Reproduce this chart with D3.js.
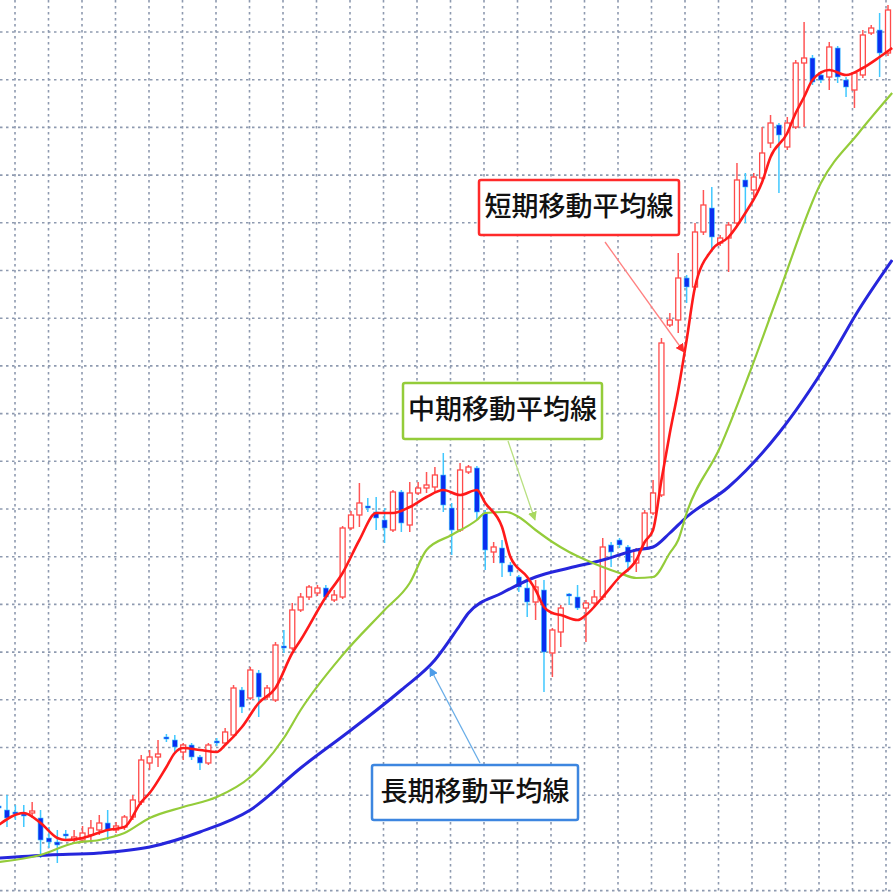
<!DOCTYPE html>
<html>
<head>
<meta charset="utf-8">
<script src="https://cdn.jsdelivr.net/npm/d3@7"></script>
<style>
  body { margin: 0; background: #fff; }
  svg { display: block; }
</style>
</head>
<body>
<div id="chart"></div>
<script>
// candles: [open, high, low, close]
const candles = [
  [194,200,188,192],[190,205,173,182],[188,195,180,186],[186,195,173,184],[187,198,182,189],
  [182,190,142,160],[162,173,152,158],[158,170,137,155],[166,170,160,164],[160,170,157,163],
  [160,174,157,167],[165,180,160,172],[170,185,165,177],[177,190,160,170],[170,178,167,174],
  [173,185,170,183],[183,205,180,200],[198,245,195,240],[237,250,230,243],[243,260,233,246],
  [263,266,258,261],[260,265,248,253],[248,257,240,255],[255,257,240,243],[243,245,230,237],
  [237,257,235,255],[259,262,254,257],[257,272,255,268],[265,315,263,312],[310,313,287,293],
  [302,333,300,330],[327,330,283,303],[303,315,300,312],[300,358,298,355],[354,370,347,352],
  [352,397,350,390],[390,407,388,403],[403,415,400,413],[407,415,404,412],[412,415,400,403],
  [400,410,398,405],[403,474,401,472],[472,489,470,485],[485,517,473,497],[494,502,488,492],
  [488,503,470,482],[480,492,457,472],[470,510,468,508],[508,510,468,477],[475,518,468,507],
  [507,518,505,512],[512,528,507,515],[513,533,508,525],[525,547,488,495],[492,497,445,470],
  [470,537,468,530],[528,535,526,533],[532,534,480,488],[487,490,430,450],[448,458,437,453],
  [452,460,423,437],[435,438,424,428],[423,425,408,413],[412,420,383,398],[398,420,380,413],
  [410,420,308,348],[347,372,323,370],[368,395,353,392],[406,407,395,404],[403,415,390,392],
  [392,400,358,397],[397,410,393,403],[403,462,400,453],[455,458,433,448],[460,462,452,455],
  [453,455,428,438],[437,452,428,450],[452,490,450,487],[487,520,485,507],[505,662,503,657],
  [675,687,673,680],[680,747,667,722],[722,725,697,713],[713,777,710,768],[768,810,765,795],
  [792,813,748,763],[757,765,754,762],[762,778,728,775],[777,837,773,820],[820,827,777,813],
  [810,827,803,823],[822,873,820,847],[857,885,852,877],[875,877,807,865],[853,883,850,877],
  [873,940,871,937],[937,978,873,942],[942,945,915,918],[925,928,917,920],[923,958,910,953],
  [952,954,917,923],[920,923,903,913],[910,928,892,927],[925,970,922,965],[967,975,965,972],
  [970,987,923,947],[947,995,944,990]
];

// moving averages: [candle index, value]
const maShort = [
  [0,175],[3,187],[5,177],[7,162],[8,160],[10,162],[13,170],[15,173],[17,198],[18,207],
  [20,233],[21,247],[22,252],[24,250],[26,248],[27,255],[29,273],[31,297],[33,312],[35,347],
  [36,360],[39,403],[41,427],[43,460],[45,487],[47,487],[49,493],[51,503],[53,510],[55,505],
  [57,510],[58,497],[60,473],[61,443],[63,423],[64,410],[65,393],[66,387],[67,385],[69,380],
  [70,385],[72,403],[74,423],[76,440],[77,458],[78,470],[79,520],[80,567],[81,610],[82,660],
  [83,713],[85,750],[87,763],[89,787],[91,818],[92,843],[94,867],[95,887],[96,903],[97,920],
  [99,930],[101,925],[103,932],[105,943],[106.5,952]
];
const maMid = [
  [0,138],[5,145],[9,157],[12,160],[15,167],[18,182],[22,193],[26,203],[30,223],[34,262],
  [36,290],[41,345],[46,390],[49,417],[51,450],[54,465],[57,480],[58,487],[60.5,488],[62,483],
  [64,470],[66,458],[68,448],[70,440],[72,433],[74,427],[76,422],[78,423],[80,447],[81,460],
  [82,487],[86,553],[89.5,627],[93,707],[98,817],[102.5,867],[106.5,907]
];
const maLong = [
  [0,142],[6,145],[12,147],[18,153],[24,168],[30,190],[36,232],[42,270],[48,310],[52,340],
  [55,375],[56,387],[60,407],[64,423],[68,432],[72,440],[76,450],[78,453],[80,467],[82,483],
  [87,513],[93,567],[99,640],[102.5,690],[106.5,740]
];

const labels = ["短期移動平均線", "中期移動平均線", "長期移動平均線"];

const width = 893;
const height = 893;

const svg = d3.select("#chart").append("svg")
  .attr("width", width).attr("height", height);

const x = d3.scaleLinear().domain([0, candles.length - 1]).range([-1.4, 888]);
const y = d3.scaleLinear().domain([107, 1000]).range([height, 0]);

// grid
const gridX = d3.range(15, width, 33.5);
const gridY = d3.range(32, height, 47.7);
svg.append("g").selectAll("line").data(gridX).join("line")
  .attr("x1", d => d).attr("x2", d => d).attr("y1", 0).attr("y2", height)
  .attr("stroke", "#8e9ab0").attr("stroke-width", 1.6).attr("stroke-dasharray", "2.5,3.5");
svg.append("g").selectAll("line").data(gridY).join("line")
  .attr("y1", d => d).attr("y2", d => d).attr("x1", 0).attr("x2", width)
  .attr("stroke", "#8e9ab0").attr("stroke-width", 1.6).attr("stroke-dasharray", "2.5,3.5");

// candles
const g = svg.append("g");
const candle = g.selectAll("g").data(candles).join("g");
candle.append("line")
  .attr("x1", (d, i) => x(i)).attr("x2", (d, i) => x(i))
  .attr("y1", d => y(d[1])).attr("y2", d => y(d[2]))
  .attr("stroke", d => d[3] >= d[0] ? "#ff5555" : "#40c8ff")
  .attr("stroke-width", 1.5);
candle.append("rect")
  .attr("x", (d, i) => x(i) - 2.5)
  .attr("width", 5)
  .attr("y", d => y(Math.max(d[0], d[3])))
  .attr("height", d => Math.max(2, Math.abs(y(d[0]) - y(d[3]))))
  .attr("fill", d => d[3] >= d[0] ? "#fff" : "#0a2ff0")
  .attr("stroke", d => d[3] >= d[0] ? "#ff4a4a" : "#40c8ff")
  .attr("stroke-width", d => d[3] >= d[0] ? 1.3 : 0.6);

// moving averages
const line = d3.line().x(d => x(d[0])).y(d => y(d[1])).curve(d3.curveMonotoneX);
svg.append("path").datum(maLong).attr("d", line)
  .attr("fill", "none").attr("stroke", "#2626dc").attr("stroke-width", 3);
svg.append("path").datum(maMid).attr("d", line)
  .attr("fill", "none").attr("stroke", "#94cc3a").attr("stroke-width", 2.2);
svg.append("path").datum(maShort).attr("d", line)
  .attr("fill", "none").attr("stroke", "#ff1a1a").attr("stroke-width", 2.6);

// annotations
const defs = svg.append("defs");
function marker(id, color) {
  defs.append("marker").attr("id", id).attr("viewBox", "0 0 10 10")
    .attr("refX", 9).attr("refY", 5).attr("markerWidth", 7).attr("markerHeight", 7)
    .attr("orient", "auto")
    .append("path").attr("d", "M0,0L10,5L0,10Z").attr("fill", color);
}
marker("arR", "#ff2a2a");
marker("arG", "#a8d860");
marker("arB", "#4d9ce8");

const notes = [
  { text: labels[0], box: [479, 180, 200, 55], color: "#ff2a2a", arrow: [605, 242, 684, 352], m: "arR", ac: "#ff8080" },
  { text: labels[1], box: [403, 383, 199, 56], color: "#94cc3a", arrow: [508, 441, 535, 520], m: "arG", ac: "#b8e080" },
  { text: labels[2], box: [372, 765, 206, 55], color: "#3d86e0", arrow: [480, 763, 430, 668], m: "arB", ac: "#6aaee8" }
];
notes.forEach(n => {
  svg.append("line")
    .attr("x1", n.arrow[0]).attr("y1", n.arrow[1]).attr("x2", n.arrow[2]).attr("y2", n.arrow[3])
    .attr("stroke", n.ac).attr("stroke-width", 1.3).attr("marker-end", `url(#${n.m})`);
  svg.append("rect")
    .attr("x", n.box[0]).attr("y", n.box[1]).attr("width", n.box[2]).attr("height", n.box[3])
    .attr("fill", "#fff").attr("stroke", n.color).attr("stroke-width", 2.5).attr("rx", 2);
  svg.append("text")
    .attr("x", n.box[0] + n.box[2] / 2).attr("y", n.box[1] + n.box[3] / 2 + 1)
    .attr("text-anchor", "middle").attr("dominant-baseline", "middle")
    .attr("font-family", "Noto Sans CJK JP").attr("font-weight", 500)
    .attr("font-size", 27).attr("fill", "#111")
    .text(n.text);
});
</script>
</body>
</html>
